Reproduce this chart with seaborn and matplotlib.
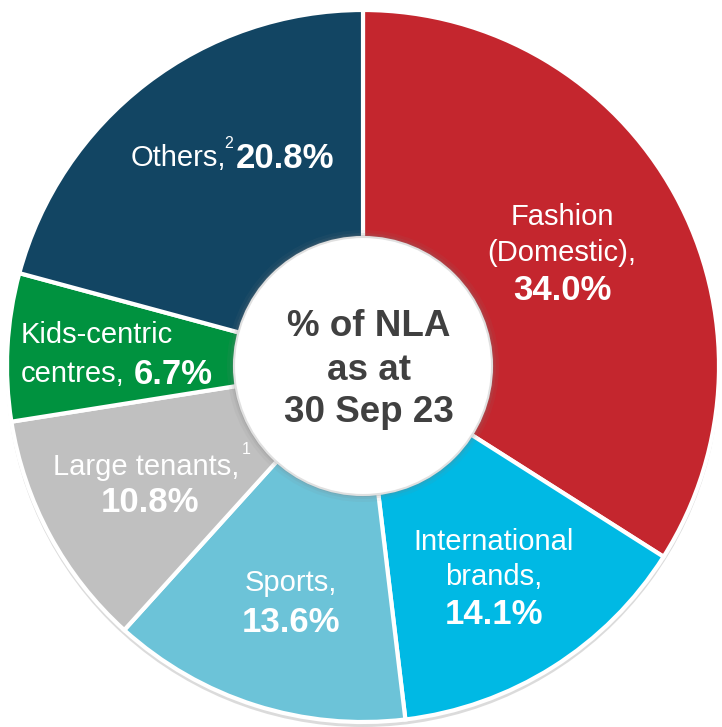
import matplotlib.pyplot as plt
import seaborn as sns
from matplotlib.patches import Circle

# data
categories = ["Fashion (Domestic)", "International brands", "Sports",
              "Large tenants", "Kids-centric centres", "Others"]
shares = [34.0, 14.1, 13.6, 10.8, 6.7, 20.8]
colors = ["#C4262E", "#00B9E4", "#6CC3D8", "#C0C0C0", "#00923F", "#124563"]
center_lines = ["% of NLA", "as at", "30 Sep 23"]

sns.set_theme(style="white")
plt.rcParams['font.family'] = ['Liberation Sans', 'DejaVu Sans']

W, H = 722, 727
fig = plt.figure(figsize=(W / 100, H / 100), dpi=100)
ax = fig.add_axes([0, 0, 1, 1])
ax.axis("off")


def Y(y):
    # pixel row (from top) -> data y
    return H - y


cx, cy, R = 363, Y(366), 356

# faint drop shadow under the ring
ax.add_patch(Circle((cx, cy - 4), R + 1, facecolor="#9a9a9a", alpha=0.35,
                    edgecolor="none", zorder=0))

ax.pie(shares, colors=colors, startangle=90, counterclock=False,
       center=(cx, cy), radius=R,
       wedgeprops=dict(edgecolor="white", linewidth=3, zorder=1))
ax.set_xlim(0, W)
ax.set_ylim(0, H)
ax.set_aspect("equal")

# centre circle with a soft shadow
for r, a in [(136, 0.08), (133, 0.12), (131, 0.18)]:
    ax.add_patch(Circle((cx, cy), r, facecolor="#808080", alpha=a,
                        edgecolor="none", zorder=2))
ax.add_patch(Circle((cx, cy), 129, facecolor="white", edgecolor="#e0e0e0",
                    linewidth=1.5, zorder=2))

for i, line in enumerate(center_lines):
    ax.text(369, Y(327 + 43 * i), line, ha="center", va="center",
            fontsize=26.5, fontweight="bold", color="#404040", zorder=3)

reg = dict(color="white", fontsize=21, va="center", zorder=3)
bold = dict(color="white", fontsize=25, fontweight="bold", va="center", zorder=3)
sup = dict(color="white", fontsize=11.5, va="center", ha="center", zorder=3)

# Fashion
ax.text(562, Y(217), "Fashion", ha="center", **reg)
ax.text(562, Y(253), "(Domestic),", ha="center", **reg)
ax.text(562, Y(291), f"{shares[0]:.1f}%", ha="center", **bold)

# International brands
ax.text(494, Y(542), "International", ha="center", **reg)
ax.text(494, Y(577), "brands,", ha="center", **reg)
ax.text(494, Y(614), f"{shares[1]:.1f}%", ha="center", **bold)

# Sports
ax.text(291, Y(583), "Sports,", ha="center", **reg)
ax.text(291, Y(622), f"{shares[2]:.1f}%", ha="center", **bold)

# Large tenants
ax.text(146, Y(467), "Large tenants,", ha="center", **reg)
ax.text(246, Y(450), "1", **sup)
ax.text(150, Y(503), f"{shares[3]:.1f}%", ha="center", **bold)

# Kids-centric centres
ax.text(21, Y(335), "Kids-centric", ha="left", **reg)
ax.text(21, Y(374), "centres,", ha="left", **reg)
ax.text(134, Y(374), f"{shares[4]:.1f}%", ha="left", **bold)

# Others
ax.text(226, Y(158), "Others,", ha="right", **reg)
ax.text(229, Y(143), "2", **sup)
ax.text(236, Y(158), f"{shares[5]:.1f}%", ha="left", **bold)

fig.savefig("out.png", dpi=100)
